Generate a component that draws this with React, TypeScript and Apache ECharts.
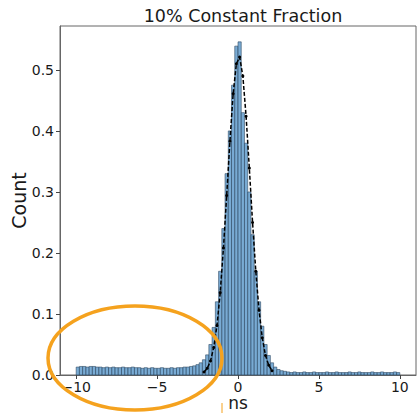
import React, { useEffect, useRef } from "react";
import * as echarts from "echarts";

// histogram: bin centres (ns) and normalised counts, bin width 0.2 ns
const binCenters: number[] = [];
for (let i = 0; i < 100; i++) binCenters.push(Number((-9.9 + i * 0.2).toFixed(1)));
const binWidth = 0.2;
const counts: number[] = [
  // -9.9 .. -3.1
  0.013, 0.014, 0.014, 0.013, 0.014, 0.014, 0.013, 0.013, 0.012, 0.013,
  0.012, 0.013, 0.012, 0.012, 0.013, 0.012, 0.012, 0.013, 0.012, 0.012,
  0.011, 0.012, 0.011, 0.012, 0.011, 0.011, 0.012, 0.011, 0.011, 0.012,
  0.011, 0.012, 0.012, 0.013, 0.013,
  // -2.9 .. 2.9
  0.014, 0.015, 0.017, 0.020, 0.025, 0.033, 0.05, 0.078, 0.12, 0.17,
  0.24, 0.33, 0.40, 0.475, 0.539, 0.546, 0.43, 0.38, 0.30, 0.23,
  0.17, 0.12, 0.08, 0.05, 0.032, 0.02, 0.013, 0.009, 0.007, 0.006,
  // 3.1 .. 9.9
  0.005, 0.004, 0.005, 0.004, 0.004, 0.005, 0.004, 0.004, 0.005, 0.004,
  0.004, 0.004, 0.005, 0.004, 0.004, 0.005, 0.004, 0.004, 0.004, 0.005,
  0.004, 0.004, 0.005, 0.004, 0.004, 0.004, 0.005, 0.004, 0.004, 0.005,
  0.004, 0.004, 0.004, 0.005, 0.004,
];

// fitted curve points (dashed black line with dots)
const fitX = [-2.1, -1.9, -1.7, -1.5, -1.3, -1.1, -0.9, -0.7, -0.5, -0.3, -0.1, 0.1, 0.3, 0.5, 0.7, 0.9, 1.1, 1.3, 1.5, 1.7, 1.9, 2.1];
const fitY = [0.005, 0.011, 0.023, 0.045, 0.081, 0.135, 0.208, 0.294, 0.383, 0.461, 0.51, 0.521, 0.49, 0.424, 0.339, 0.25, 0.17, 0.106, 0.061, 0.032, 0.016, 0.007];

const xTicks = [-10, -5, 0, 5, 10];
const yTicks = [0, 0.1, 0.2, 0.3, 0.4, 0.5];

const title = "10% Constant Fraction";
const xName = "ns";
const yName = "Count";

export default function App() {
  const ref = useRef<HTMLDivElement>(null);
  useEffect(() => {
    if (!ref.current) return;
    const chart = echarts.init(ref.current, null, { renderer: "svg" });
    const font = "DejaVu Sans";
    chart.setOption({
      animation: false,
      backgroundColor: "#ffffff",
      title: {
        text: title,
        left: 238,
        top: 2,
        textAlign: "center",
        textStyle: { fontFamily: font, fontSize: 17.5, fontWeight: "normal", color: "#1a1a1a" },
      },
      grid: {
        left: 60,
        top: 26,
        right: 3,
        bottom: 38,
        containLabel: false,
        outerBoundsMode: "none",
        show: true,
        borderColor: "#666",
        borderWidth: 1,
        backgroundColor: "transparent",
      },
      xAxis: {
        type: "value",
        min: -11,
        max: 11,
        name: xName,
        nameLocation: "middle",
        nameGap: 22,
        nameMoveOverlap: false,
        nameTextStyle: { fontFamily: font, fontSize: 17, color: "#1a1a1a", lineHeight: 12, verticalAlign: "top" },
        axisLine: { show: true, onZero: false, lineStyle: { color: "#666" } },
        axisTick: { show: true, length: 4, customValues: xTicks, lineStyle: { color: "#444" } },
        axisLabel: {
          customValues: xTicks,
          fontFamily: font,
          fontSize: 14,
          lineHeight: 13,
          color: "#1a1a1a",
          margin: 5,
          formatter: (v: number) => (v < 0 ? "\u2212" + Math.abs(v) : String(v)),
        },
        splitLine: { show: false },
      },
      yAxis: {
        type: "value",
        min: 0,
        max: 0.572,
        name: yName,
        nameLocation: "middle",
        nameGap: 32,
        nameMoveOverlap: false,
        nameTextStyle: { fontFamily: font, fontSize: 19, color: "#1a1a1a" },
        axisLine: { show: true, onZero: false, lineStyle: { color: "#666" } },
        axisTick: { show: true, length: 4, customValues: yTicks, lineStyle: { color: "#444" } },
        axisLabel: {
          customValues: yTicks,
          fontFamily: font,
          fontSize: 14,
          color: "#1a1a1a",
          margin: 6,
          formatter: (v: number) => v.toFixed(1),
        },
        splitLine: { show: false },
      },
      series: [
        {
          type: "custom",
          data: binCenters.map((c, i) => [c, counts[i]]),
          renderItem: (params: any, api: any) => {
            const c = api.value(0);
            const v = api.value(1);
            const p0 = api.coord([c - binWidth / 2, v]);
            const p1 = api.coord([c + binWidth / 2, 0]);
            return {
              type: "rect",
              shape: { x: p0[0], y: p0[1], width: p1[0] - p0[0], height: p1[1] - p0[1] },
              style: { fill: "rgba(98,156,204,0.85)", stroke: "#2f4a63", lineWidth: 0.6 },
            };
          },
          encode: { x: 0, y: 1 },
          z: 2,
        },
        {
          type: "line",
          data: fitX.map((x, i) => [x, fitY[i]]),
          symbol: "circle",
          symbolSize: 3,
          itemStyle: { color: "#000" },
          lineStyle: { color: "#000", width: 1.5, type: [4, 2] },
          z: 3,
        },
      ],
      graphic: [
        {
          type: "ellipse",
          shape: { cx: 135, cy: 358, rx: 87, ry: 52 },
          style: { fill: "none", stroke: "#f5a21e", lineWidth: 3.5 },
          z: 10,
        },
        {
          type: "line",
          shape: { x1: 222, y1: 403, x2: 222, y2: 413 },
          style: { stroke: "#f5a21e", lineWidth: 1 },
          z: 10,
        },
      ],
    });
    return () => chart.dispose();
  }, []);
  return <div ref={ref} style={{ width: 419, height: 413, position: "absolute", left: 0, top: 0 }} />;
}
